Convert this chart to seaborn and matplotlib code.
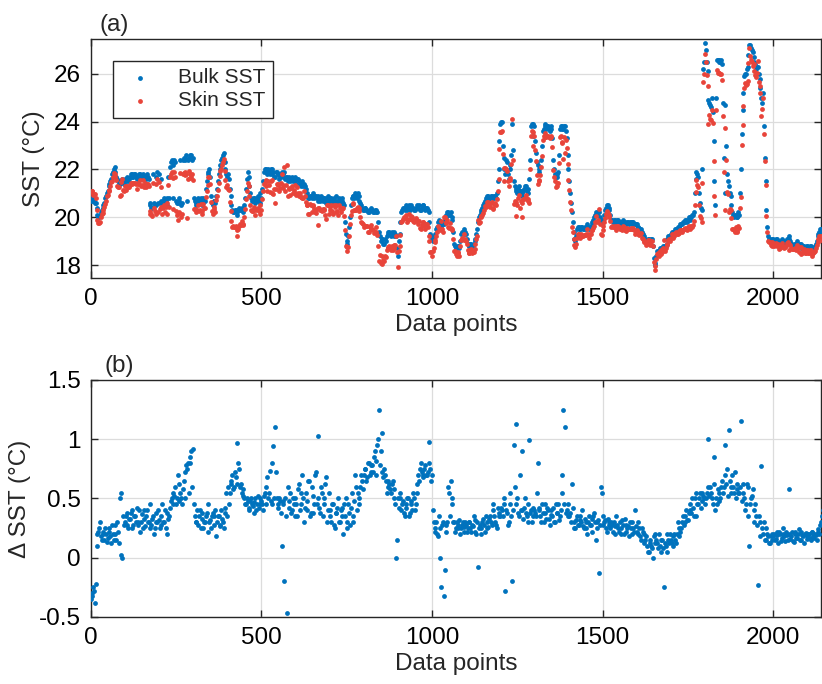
import numpy as np
import pandas as pd
import matplotlib
matplotlib.use("Agg")
import matplotlib.pyplot as plt
import seaborn as sns

# Spacing (in data points) between stored samples; a second set of readings
# sits half-way between the first.
sample_step = 5
half_step = 2.5

# Bulk SST (°C) at points 0, 5, 10, ...
bulk_sst = [
    20.7, 20.8, 20.7, 20.6, 20.1, 20.0, 20.2, 20.4, 20.6, 20.9, 21.1, 21.4, 21.6, 21.9, 22.1, 21.7, 21.5, 21.4, 21.5, 21.5,
    21.6, 21.7, 21.5, 21.7, 21.8, 21.7, 21.8, 21.6, 21.7, 21.8, 21.7, 21.6, 21.7, 21.8, 21.6, 20.5, 20.4, 20.6, 20.5, 21.9,
    21.8, 20.7, 20.6, 20.8, 20.7, 20.5, 20.8, 22.3, 22.2, 22.4, 20.7, 20.6, 20.8, 20.5, 22.4, 22.5, 22.6, 22.4, 22.5, 22.6,
    22.5, 20.7, 20.6, 20.8, 20.7, 20.6, 20.8, 20.7, 21.5, 21.9, 21.7, 20.6, 20.7, 20.6, 21.2, 21.8, 22.2, 22.5, 22.7, 22.0,
    21.7, 21.6, 20.9, 20.3, 20.2, 20.3, 20.2, 20.4, 20.3, 20.3, 20.5, 21.2, 21.9, 21.3, 20.8, 20.7, 20.8, 20.7, 20.9, 20.6,
    20.8, 21.5, 22.0, 21.9, 22.0, 21.8, 22.0, 21.9, 21.7, 21.9, 21.8, 21.7, 21.9, 21.8, 21.6, 21.7, 21.6, 21.5, 21.7, 21.6,
    21.5, 21.6, 21.5, 21.3, 21.5, 21.4, 21.2, 20.9, 20.8, 20.9, 21.0, 20.8, 20.9, 20.7, 20.8, 20.9, 20.7, 20.8, 20.6, 20.9,
    20.7, 20.8, 20.6, 20.7, 20.9, 20.6, 20.7, 20.8, 20.6, 19.8, 18.9, 19.2, 20.0, 20.8, 20.9, 21.0, 20.8, 20.9, 20.6, 20.4,
    20.3, 20.4, 20.3, 20.2, 20.4, 20.3, 20.2, 20.3, 20.2, 19.4, 19.0, 19.1, 18.9, 19.0, 19.3, 19.4, 19.2, 19.3, 19.4, 19.2,
    18.4, 19.3, 20.2, 20.4, 20.3, 20.5, 20.4, 20.3, 20.5, 20.4, 20.3, 20.5, 20.4, 20.3, 20.4, 20.5, 20.3, 20.4, 20.2, 19.3,
    19.1, 19.0, 19.3, 19.6, 19.9, 19.5, 19.8, 19.7, 20.0, 20.2, 20.1, 20.2, 19.9, 18.9, 18.7, 18.8, 18.7, 19.3, 19.4, 19.5,
    19.3, 18.9, 18.8, 18.9, 18.8, 19.0, 19.3, 19.8, 20.1, 20.3, 20.5, 20.7, 20.8, 20.9, 20.8, 20.9, 20.8, 20.9, 21.0, 22.0,
    23.9, 24.0, 22.5, 21.8, 22.3, 21.6, 22.0, 23.9, 21.5, 21.2, 21.0, 21.3, 21.1, 20.9, 21.2, 21.3, 21.0, 21.6, 23.8, 23.9,
    23.8, 22.7, 22.2, 22.0, 22.4, 23.6, 23.8, 23.7, 23.8, 23.6, 23.7, 22.4, 21.8, 21.7, 21.9, 23.7, 23.8, 23.7, 23.8, 23.3,
    22.0, 21.0, 20.2, 19.4, 19.0, 19.5, 19.6, 19.5, 19.6, 19.5, 19.6, 19.7, 19.5, 19.6, 19.8, 20.0, 20.2, 20.1, 20.2, 19.9,
    19.8, 20.1, 20.4, 20.5, 20.3, 19.9, 19.8, 19.9, 19.8, 19.9, 19.8, 19.7, 19.9, 19.8, 19.7, 19.8, 19.8, 19.7, 19.8, 19.7,
    19.7, 19.6, 19.5, 19.4, 19.2, 19.1, 19.0, 19.1, 19.0, 19.1, 18.3, 18.0, 18.6, 18.6, 18.7, 18.7, 18.8, 18.8, 19.1, 19.2,
    19.3, 19.4, 19.4, 19.5, 19.6, 19.6, 19.7, 19.8, 19.8, 19.9, 19.9, 20.0, 20.0, 20.1, 21.0, 21.9, 21.7, 20.6, 20.3, 26.2,
    27.3, 26.5, 24.9, 24.7, 25.0, 23.2, 20.5, 26.6, 26.6, 26.5, 26.4, 22.5, 24.7, 21.8, 21.3, 20.9, 20.2, 20.0, 20.1, 20.0,
    20.1, 22.0, 24.5, 25.9, 26.0, 26.3, 27.2, 27.1, 26.9, 26.5, 26.2, 26.3, 25.8, 25.0, 25.2, 22.5, 20.3, 19.2, 19.1, 19.0,
    19.1, 19.0, 19.1, 19.0, 18.9, 19.1, 19.0, 18.9, 19.1, 19.2, 19.0, 18.9, 18.8, 18.9, 19.0, 18.8, 18.9, 18.7, 18.8, 18.7,
    18.8, 18.7, 18.8, 18.6, 18.7, 18.9, 19.2, 19.4, 19.5, 19.4,
]

# Bulk SST (°C) at points 2.5, 7.5, 12.5, ...
bulk_sst_mid = [
    20.8, 20.7, 20.6, 20.4, 20.0, 20.1, 20.3, 20.5, 20.8, 21.0, 21.3, 21.5, 21.8, 22.0, 21.9, 21.6, 21.4, 21.5, 21.6, 21.4,
    21.5, 21.6, 21.6, 21.8, 21.7, 21.8, 21.7, 21.7, 21.8, 21.6, 21.8, 21.7, 21.6, 21.7, 20.6, 20.4, 21.8, 20.5, 21.7, 20.6,
    20.6, 21.6, 20.7, 20.6, 20.8, 21.7, 22.1, 22.4, 20.8, 22.3, 20.6, 20.7, 22.4, 20.6, 22.5, 22.4, 20.7, 22.5, 22.6, 22.4,
    20.8, 20.5, 20.7, 20.6, 20.8, 20.5, 20.7, 21.2, 21.8, 22.0, 20.9, 20.5, 20.7, 20.9, 21.5, 22.0, 22.4, 22.6, 22.3, 21.8,
    21.8, 21.2, 20.5, 20.2, 20.3, 20.1, 20.3, 20.3, 20.4, 20.2, 20.8, 21.6, 21.7, 21.0, 20.7, 20.8, 20.6, 20.8, 20.7, 21.0,
    21.2, 21.9, 22.0, 21.8, 21.9, 22.0, 21.8, 21.7, 21.9, 21.8, 21.6, 21.8, 21.7, 21.9, 21.7, 21.5, 21.7, 21.6, 21.5, 21.7,
    21.4, 21.6, 21.4, 21.4, 21.3, 21.3, 21.0, 20.8, 20.9, 20.8, 20.9, 20.9, 20.8, 20.9, 20.7, 20.8, 20.8, 20.7, 20.8, 20.7,
    20.8, 20.7, 20.8, 20.6, 20.7, 20.8, 20.6, 20.7, 20.5, 19.3, 19.0, 19.6, 20.5, 20.9, 20.8, 20.9, 21.0, 20.7, 20.5, 20.3,
    20.4, 20.3, 20.2, 20.3, 20.3, 20.2, 20.3, 20.2, 19.8, 19.2, 19.1, 18.9, 19.1, 19.2, 19.4, 19.3, 19.4, 19.2, 19.3, 18.7,
    19.0, 19.8, 20.3, 20.4, 20.4, 20.3, 20.5, 20.4, 20.4, 20.3, 20.4, 20.4, 20.5, 20.3, 20.5, 20.4, 20.4, 20.3, 19.8, 19.2,
    19.0, 19.2, 19.5, 19.8, 19.7, 19.6, 19.7, 19.9, 20.1, 20.2, 20.1, 20.0, 19.4, 18.8, 18.7, 18.8, 19.0, 19.4, 19.3, 19.4,
    19.1, 18.8, 18.9, 18.8, 18.9, 19.1, 19.5, 20.0, 20.2, 20.4, 20.6, 20.8, 20.9, 20.8, 20.9, 20.8, 20.9, 20.8, 21.5, 23.2,
    24.0, 23.0, 22.0, 22.4, 21.8, 22.2, 22.6, 22.8, 21.3, 21.1, 21.2, 21.1, 21.0, 21.1, 21.3, 21.1, 21.2, 22.4, 23.9, 23.4,
    23.2, 22.3, 21.9, 22.1, 23.0, 23.7, 23.9, 23.8, 23.7, 23.8, 23.3, 22.0, 21.7, 21.8, 22.6, 23.8, 23.7, 23.8, 23.6, 22.6,
    21.5, 20.6, 19.8, 19.1, 19.2, 19.6, 19.5, 19.6, 19.5, 19.6, 19.5, 19.6, 19.6, 19.7, 19.9, 20.1, 20.1, 20.2, 20.0, 19.8,
    19.9, 20.3, 20.5, 20.4, 20.1, 19.9, 19.9, 19.8, 19.9, 19.8, 19.8, 19.8, 19.8, 19.7, 19.8, 19.7, 19.8, 19.8, 19.7, 19.7,
    19.6, 19.5, 19.5, 19.3, 19.1, 19.0, 19.1, 19.0, 19.1, 18.8, 18.1, 18.4, 18.6, 18.7, 18.6, 18.8, 18.7, 18.9, 19.2, 19.2,
    19.4, 19.3, 19.5, 19.5, 19.6, 19.7, 19.7, 19.8, 19.9, 19.8, 20.0, 19.9, 20.1, 20.2, 21.6, 21.8, 21.0, 20.4, 22.0, 26.5,
    27.0, 26.1, 24.8, 24.6, 24.4, 21.5, 25.0, 26.6, 26.5, 26.6, 24.8, 21.0, 23.0, 21.5, 21.0, 20.5, 20.1, 20.1, 20.0, 20.2,
    21.0, 23.5, 25.2, 26.0, 26.2, 26.8, 27.2, 27.0, 26.7, 26.4, 26.3, 26.0, 25.4, 24.8, 23.8, 21.5, 19.6, 19.1, 19.0, 19.1,
    19.0, 19.1, 19.0, 18.9, 19.0, 19.0, 18.9, 19.0, 19.1, 19.1, 18.9, 18.8, 18.9, 18.8, 18.9, 18.9, 18.7, 18.8, 18.7, 18.8,
    18.7, 18.8, 18.7, 18.7, 18.8, 19.0, 19.3, 19.5, 19.4, 19.5,
]

# Bulk minus skin temperature (°C) at points 0, 5, 10, ...
delta_sst = [
    -0.35, -0.30, -0.28, -0.22, 0.20, 0.25, 0.18, 0.22, 0.15, 0.20, 0.17, 0.25, 0.12, 0.20, 0.28, 0.15, 0.22, 0.50, 0.02, 0.35,
    0.30, 0.38, 0.25, 0.33, 0.40, 0.28, 0.35, 0.42, 0.30, 0.22, 0.37, 0.33, 0.27, 0.40, 0.30, 0.25, 0.33, 0.20, 0.38, 0.30,
    0.32, 0.28, 0.45, 0.30, 0.25, 0.38, 0.35, 0.48, 0.55, 0.52, 0.45, 0.70, 0.62, 0.50, 0.58, 0.72, 0.78, 0.80, 0.85, 0.90,
    0.92, 0.35, 0.30, 0.28, 0.40, 0.33, 0.25, 0.30, 0.38, 0.22, 0.32, 0.35, 0.28, 0.40, 0.30, 0.35, 0.27, 0.33, 0.25, 0.42,
    0.35, 0.45, 0.62, 0.70, 0.60, 0.68, 0.97, 0.75, 0.62, 0.58, 0.50, 0.45, 0.48, 0.42, 0.50, 0.44, 0.47, 0.40, 0.52, 0.45,
    0.48, 0.40, 0.55, 0.60, 0.50, 0.73, 0.45, 0.94, 1.10, 0.50, 0.42, 0.48, 0.10, 0.45, 0.50, -0.47, 0.42, 0.55, 0.40, 0.45,
    0.50, 0.35, 0.62, 0.45, 0.70, 0.30, 0.55, 0.40, 0.65, 0.38, 0.52, 0.45, 0.72, 1.03, 0.42, 0.60, 0.35, 0.50, 0.68, 0.40,
    0.40, 0.30, 0.45, 0.25, 0.38, 0.50, 0.30, 0.42, 0.20, 0.35, 0.30, 0.45, 0.28, 0.55, 0.35, 0.70, 0.40, 0.50, 0.60, 0.65,
    0.70, 0.75, 0.68, 0.80, 0.72, 0.78, 0.85, 0.70, 0.95, 1.25, 0.90, 1.05, 0.75, 0.65, 0.60, 0.62, 0.55, 0.65, 0.58, 0.00,
    0.50, 0.50, 0.40, 0.48, 0.35, 0.42, 0.50, 0.38, 0.45, 0.55, 0.40, 0.62, 0.70, 0.75, 0.72, 0.68, 0.78, 0.70, 0.98, 0.75,
    0.70, 0.30, 0.25, 0.20, 0.35, 0.00, 0.28, -0.32, 0.22, 0.30, 0.55, 0.65, 0.45, 0.30, 0.25, 0.28, 0.32, 0.25, 0.30, 0.22,
    0.28, 0.25, 0.30, 0.22, 0.27, 0.32, 0.20, -0.08, 0.28, 0.25, 0.33, 0.22, 0.30, 0.26, 0.35, 0.28, 0.40, 0.30, 0.25, 0.38,
    0.35, 0.40, 0.45, -0.28, 0.38, 0.30, 0.45, -0.20, 0.95, 1.13, 0.50, 0.35, 0.40, 0.90, 0.42, 0.38, 0.30, 0.99, 0.40, 0.35,
    0.40, 0.35, 0.80, 0.42, 0.30, 0.38, 0.45, 0.33, 0.40, 0.28, 0.36, 0.42, 0.30, 0.38, 0.45, 0.35, 0.70, 1.25, 1.10, 0.40,
    0.45, 0.38, 0.62, 0.30, 0.25, 0.35, 0.28, 0.32, 0.40, 0.25, 0.30, 0.20, 0.35, 0.28, 0.33, 0.38, 0.15, 0.30, -0.13, 0.60,
    0.35, 0.30, 0.25, 0.33, 0.28, 0.30, 0.22, 0.27, 0.35, 0.25, 0.30, 0.20, 0.28, 0.33, 0.22, 0.27, 0.30, 0.20, 0.25, 0.40,
    0.22, 0.30, 0.18, 0.25, 0.20, 0.15, 0.10, 0.05, 0.15, 0.08, 0.18, 0.20, 0.12, 0.20, 0.05, 0.15, -0.25, 0.10, 0.20, 0.12,
    0.15, 0.10, 0.20, 0.12, 0.30, 0.18, 0.25, 0.35, 0.30, 0.40, 0.32, 0.45, 0.38, 0.42, 0.50, 0.35, 0.45, 0.55, 0.48, 0.52,
    0.45, 0.55, 1.00, 0.60, 0.50, 0.85, 0.40, 0.45, 0.55, 0.50, 0.65, 0.60, 0.95, 0.75, 1.08, 0.60, 0.70, 0.55, 0.50, 0.62,
    0.55, 1.15, 0.62, 0.50, 0.45, 0.60, 0.10, 0.50, 0.58, 0.40, 0.35, -0.23, 0.30, 0.77, 0.20, 0.15, 0.25, 0.18, 0.12, 0.20,
    0.18, 0.15, 0.22, 0.12, 0.20, 0.17, 0.25, 0.14, 0.19, 0.58, 0.16, 0.22, 0.13, 0.20, 0.17, 0.24, 0.15, 0.19, 0.12, 0.21,
    0.18, 0.20, 0.15, 0.22, 0.17, 0.19, 0.24, 0.20, 0.30, 0.40,
]

# Bulk minus skin temperature (°C) at points 2.5, 7.5, 12.5, ...
delta_sst_mid = [
    -0.32, -0.25, -0.38, 0.10, 0.22, 0.30, 0.15, 0.20, 0.25, 0.13, 0.22, 0.18, 0.28, 0.15, 0.20, 0.30, 0.12, 0.55, 0.00, 0.28,
    0.35, 0.28, 0.33, 0.38, 0.25, 0.35, 0.30, 0.28, 0.40, 0.30, 0.25, 0.40, 0.35, 0.30, 0.45, 0.28, 0.35, 0.25, 0.30, 0.40,
    0.25, 0.35, 0.30, 0.40, 0.20, 0.33, 0.42, 0.50, 0.45, 0.60, 0.50, 0.48, 0.55, 0.45, 0.65, 0.50, 0.75, 0.55, 0.80, 0.60,
    0.45, 0.30, 0.40, 0.35, 0.25, 0.38, 0.30, 0.35, 0.45, 0.30, 0.25, 0.38, 0.35, 0.18, 0.35, 0.28, 0.40, 0.30, 0.38, 0.55,
    0.60, 0.55, 0.65, 0.58, 0.72, 0.62, 0.80, 0.60, 0.55, 0.52, 0.45, 0.50, 0.40, 0.48, 0.45, 0.38, 0.50, 0.45, 0.42, 0.50,
    0.45, 0.52, 0.45, 0.68, 0.55, 0.48, 0.80, 0.50, 0.72, 0.45, 0.50, 0.38, 0.48, -0.20, 0.35, 0.60, 0.48, 0.38, 0.50, 0.35,
    0.45, 0.58, 0.40, 0.55, 0.50, 0.42, 0.48, 0.65, 0.35, 0.60, 0.38, 0.70, 0.45, 0.50, 0.38, 0.55, 0.45, 0.62, 0.30, 0.55,
    0.35, 0.45, 0.28, 0.38, 0.42, 0.30, 0.40, 0.35, 0.45, 0.50, 0.25, 0.38, 0.42, 0.30, 0.48, 0.60, 0.55, 0.45, 0.70, 0.58,
    0.75, 0.65, 0.80, 0.70, 0.78, 0.72, 0.90, 0.82, 1.00, 0.78, 0.72, 0.68, 0.70, 0.55, 0.65, 0.58, 0.62, 0.50, 0.45, 0.15,
    0.42, 0.55, 0.45, 0.38, 0.45, 0.50, 0.35, 0.48, 0.40, 0.50, 0.45, 0.55, 0.65, 0.80, 0.70, 0.75, 0.70, 0.72, 0.80, 0.65,
    0.40, 0.22, 0.30, 0.18, 0.25, -0.25, 0.30, -0.10, 0.28, 0.60, 0.35, 0.50, 0.30, 0.22, 0.30, 0.25, 0.20, 0.28, 0.26, 0.30,
    0.22, 0.30, 0.25, 0.28, 0.35, 0.22, 0.30, 0.25, 0.20, 0.30, 0.28, 0.35, 0.25, 0.33, 0.30, 0.45, 0.35, 0.28, 0.42, 0.35,
    0.42, 0.35, 0.50, 0.40, 0.28, 0.55, 0.35, 0.40, 0.60, 0.45, 0.38, 0.70, 0.40, 0.33, 0.50, 0.35, 0.45, 0.38, 0.30, 0.42,
    0.38, 0.55, 0.40, 0.35, 0.45, 0.30, 0.38, 0.42, 0.33, 0.40, 0.35, 0.30, 0.45, 0.38, 0.32, 0.40, 0.55, 0.45, 0.38, 0.35,
    0.35, 0.30, 0.42, 0.25, 0.32, 0.28, 0.35, 0.30, 0.27, 0.33, 0.25, 0.30, 0.28, 0.22, 0.35, 0.30, 0.25, 0.32, 0.28, 0.55,
    0.28, 0.32, 0.22, 0.30, 0.25, 0.28, 0.30, 0.20, 0.28, 0.22, 0.25, 0.32, 0.20, 0.28, 0.25, 0.18, 0.25, 0.30, 0.22, 0.27,
    0.20, 0.25, 0.15, 0.22, 0.12, 0.18, 0.05, 0.12, 0.10, 0.00, 0.12, 0.15, 0.08, 0.10, 0.15, 0.08, 0.12, 0.05, 0.15, 0.20,
    0.12, 0.18, 0.15, 0.20, 0.25, 0.22, 0.30, 0.28, 0.35, 0.32, 0.38, 0.40, 0.50, 0.35, 0.55, 0.45, 0.50, 0.42, 0.55, 0.50,
    0.50, 0.60, 0.52, 0.55, 0.45, 0.62, 0.50, 0.58, 0.48, 0.60, 0.55, 0.70, 0.62, 0.52, 0.65, 0.55, 0.60, 0.72, 0.58, 0.55,
    0.60, 0.48, 0.55, 0.40, 0.62, 0.35, 0.45, 0.52, 0.30, 0.45, 0.28, 0.35, 0.18, 0.25, 0.30, 0.15, 0.20, 0.12, 0.18, 0.15,
    0.20, 0.16, 0.19, 0.22, 0.14, 0.20, 0.18, 0.22, 0.15, 0.20, 0.18, 0.14, 0.22, 0.17, 0.20, 0.15, 0.22, 0.18, 0.20, 0.16,
    0.20, 0.17, 0.22, 0.18, 0.20, 0.15, 0.22, 0.28, 0.35, 0.42,
]

x_ticks = [0, 500, 1000, 1500, 2000]
sst_ticks = [18, 20, 22, 24, 26]
sst_tick_labels = ["18", "20", "22", "24", "26"]
delta_ticks = [-0.5, 0, 0.5, 1, 1.5]
delta_tick_labels = ["-0.5", "0", "0.5", "1", "1.5"]

bulk = np.concatenate([bulk_sst, bulk_sst_mid])
delta = np.concatenate([delta_sst, delta_sst_mid])
skin = bulk - delta
points = np.concatenate([np.arange(len(bulk_sst)) * sample_step,
                         np.arange(len(bulk_sst_mid)) * sample_step + half_step])

df = pd.DataFrame({"point": points, "bulk": bulk, "skin": skin, "delta": delta})

BLUE = "#0072BD"
RED = "#E8443A"
FS = 17.5

sns.set_theme(style="ticks")
plt.rcParams["font.family"] = ["Liberation Sans", "DejaVu Sans"]
plt.rcParams["font.size"] = FS
plt.rcParams["axes.edgecolor"] = "#262626"
plt.rcParams["axes.linewidth"] = 1.0

fig = plt.figure(figsize=(8.22, 6.84), dpi=100)
ax1 = fig.add_axes([0.1103, 0.5936, 0.8885, 0.3494])
ax2 = fig.add_axes([0.1103, 0.0980, 0.8885, 0.3465])

marker_size = 12
sns.scatterplot(data=df, x="point", y="bulk", ax=ax1, color=BLUE, s=marker_size,
                linewidth=0, label="Bulk SST", zorder=3)
sns.scatterplot(data=df, x="point", y="skin", ax=ax1, color=RED, s=marker_size,
                linewidth=0, label="Skin SST", zorder=4)
sns.scatterplot(data=df, x="point", y="delta", ax=ax2, color=BLUE, s=marker_size,
                linewidth=0, zorder=3)

for ax in (ax1, ax2):
    ax.set_xlim(0, 2140)
    ax.set_xticks(x_ticks)
    ax.set_xticklabels([str(t) for t in x_ticks])
    ax.grid(True, color="#dcdcdc", linewidth=0.9)
    ax.set_axisbelow(True)
    ax.tick_params(direction="in", length=5, width=1.0, top=True, right=True,
                   labelsize=FS, colors="#262626", labelcolor="black")
    ax.tick_params(axis="x", pad=7)
    ax.tick_params(axis="y", pad=7)
    ax.set_xlabel("Data points", fontsize=FS, labelpad=3)
    for sp in ax.spines.values():
        sp.set_visible(True)

ax1.set_ylim(17.46, 27.46)
ax1.set_yticks(sst_ticks)
ax1.set_yticklabels(sst_tick_labels)
ax1.set_ylabel("SST (°C)", fontsize=FS, labelpad=6)

ax2.set_ylim(-0.5, 1.5)
ax2.set_yticks(delta_ticks)
ax2.set_yticklabels(delta_tick_labels)
ax2.set_ylabel("Δ SST (°C)", fontsize=FS, labelpad=6)

ax1.set_title("(a)", loc="left", fontsize=FS, pad=6, x=0.012)
ax2.set_title("(b)", loc="left", fontsize=FS, pad=6, x=0.019)

leg = ax1.legend(loc="upper left", bbox_to_anchor=(0.030, 0.908), frameon=True,
                 fancybox=False, edgecolor="#262626", framealpha=1, fontsize=15,
                 handletextpad=0.9, borderpad=0.35, labelspacing=0.2,
                 borderaxespad=0, markerscale=1.0, handlelength=1.9)
leg.get_frame().set_linewidth(1.0)

fig.savefig("out.png", dpi=100)
